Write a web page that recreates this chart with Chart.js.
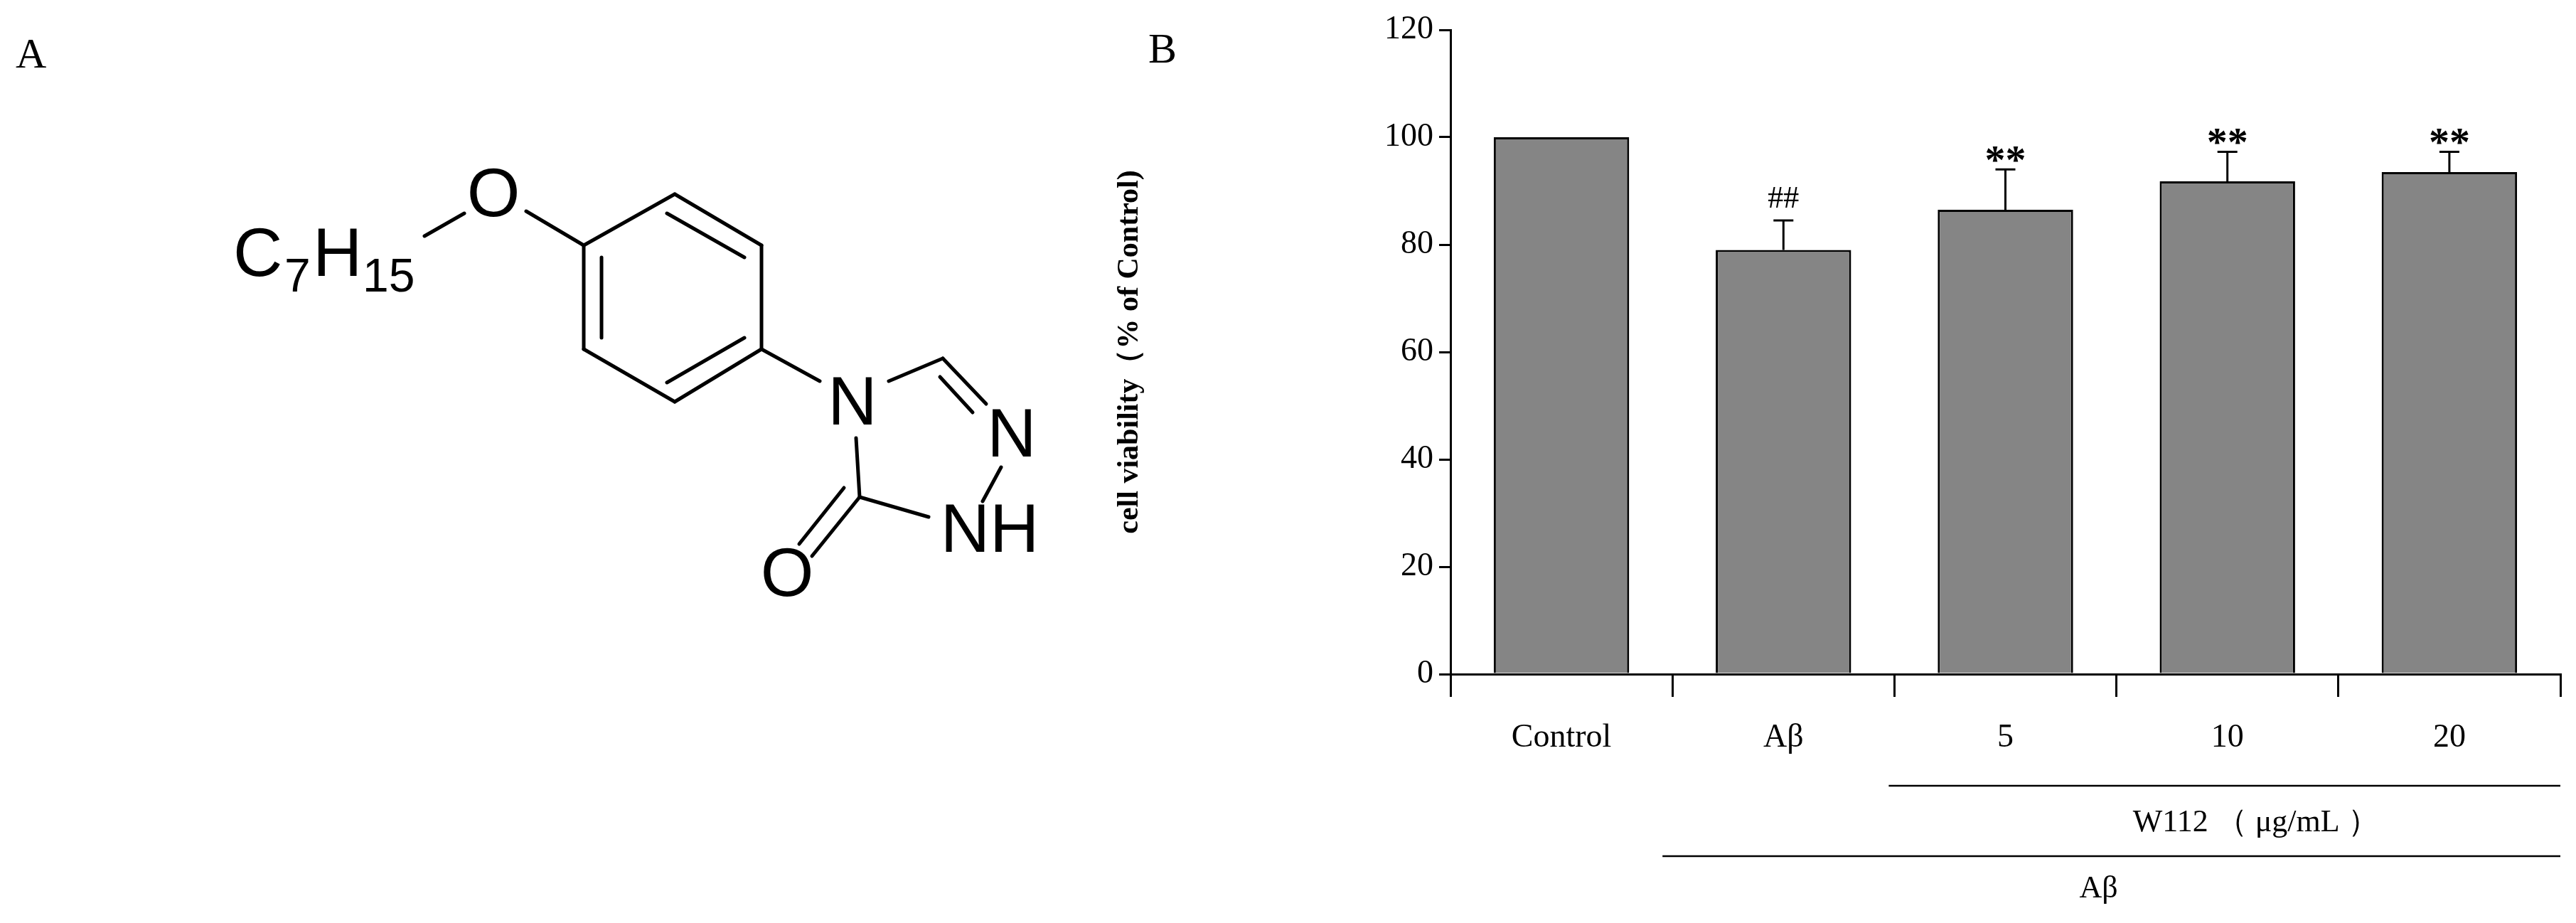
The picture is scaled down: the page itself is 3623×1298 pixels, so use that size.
<!DOCTYPE html>
<html>
<head>
<meta charset="utf-8">
<script src="https://cdn.jsdelivr.net/npm/chart.js@4/dist/chart.umd.min.js"></script>
<style>
  body { margin:0; background:#fff; width:3623px; height:1298px; position:relative; overflow:hidden; }
  #mol { position:absolute; left:0; top:0; }
  #chart { position:absolute; left:1560px; top:0; }
</style>
</head>
<body>
<canvas id="mol" width="1560" height="1298"></canvas>
<canvas id="chart" width="2063" height="1298" style="width:2063px;height:1298px"></canvas>
<script>
var categories = ['Control', 'Aβ', '5', '10', '20'];
var viability = [100, 79, 86.5, 91.8, 93.5];
var errors = [0, 5.5, 7.5, 5.5, 3.8];
var marks = ['', '##', '**', '**', '**'];
var yTicks = [0, 20, 40, 60, 80, 100, 120];

// panel A: structure drawn by hand
var m = document.getElementById('mol').getContext('2d');
m.fillStyle = '#000'; m.strokeStyle = '#000'; m.lineWidth = 5; m.lineCap = 'round';
m.font = '60px "Liberation Serif"';
m.fillText('A', 22, 95);
function ln(a, b, c, d) { m.beginPath(); m.moveTo(a, b); m.lineTo(c, d); m.stroke(); }
ln(597, 332, 653, 300);
ln(740, 297, 821, 345);
var ring = [[821,345],[949,273],[1071,345],[1071,491],[949,565],[821,491]];
for (var i = 0; i < 6; i++) { var p = ring[i], q = ring[(i+1)%6]; ln(p[0], p[1], q[0], q[1]); }
ln(938, 300, 1047, 362);   // inner lines
ln(1047, 475, 938, 538);
ln(846, 362, 846, 475);
ln(1071, 491, 1153, 536);
ln(1250, 536, 1326, 504);
ln(1326, 504, 1387, 568);
ln(1322, 530, 1368, 580);
ln(1408, 657, 1382, 705);
ln(1306, 727, 1209, 699);
ln(1204, 616, 1209, 699);
ln(1209, 699, 1142, 782);
ln(1187, 686, 1124, 765);
m.font = '96px "Liberation Sans"';
m.textAlign = 'center'; m.textBaseline = 'middle';
m.fillText('O', 694, 278);
m.fillText('N', 1199, 571);
m.fillText('N', 1423, 616);
m.fillText('NH', 1392, 750);
m.fillText('O', 1107, 812);
m.textAlign = 'left'; m.textBaseline = 'alphabetic';
m.fillText('C', 328, 388);
m.font = '66px "Liberation Sans"'; m.fillText('7', 400, 410);
m.font = '96px "Liberation Sans"'; m.fillText('H', 440, 388);
m.font = '66px "Liberation Sans"'; m.fillText('15', 510, 410);

// panel B
var serif = '"Liberation Serif", "Times New Roman", serif';
var extras = {
  id: 'extras',
  afterDatasetsDraw: function(chart) {
    var c = chart.ctx, x = chart.scales.x, y = chart.scales.y;
    var step = x.width / categories.length;
    c.save();
    c.strokeStyle = '#000'; c.fillStyle = '#000'; c.lineWidth = 3;
    viability.forEach(function(v, i) {
      var cx = x.getPixelForValue(i);
      if (errors[i] > 0) {
        var top = y.getPixelForValue(v + errors[i]);
        c.beginPath(); c.moveTo(cx, y.getPixelForValue(v)); c.lineTo(cx, top);
        c.moveTo(cx - 14, top); c.lineTo(cx + 14, top); c.stroke();
      }
      if (marks[i]) {
        c.font = (marks[i] === '##' ? '44px ' : 'bold 58px ') + serif;
        c.textAlign = 'center'; c.textBaseline = 'alphabetic';
        c.fillText(marks[i], cx, y.getPixelForValue(v + errors[i]) - (marks[i] === '##' ? 18 : -6));
      }
    });
    // group lines under the axis
    c.lineWidth = 2.5;
    c.beginPath(); c.moveTo(x.getPixelForValue(2) - step / 2 - 8, 1105); c.lineTo(x.right, 1105); c.stroke();
    c.beginPath(); c.moveTo(x.getPixelForValue(1) - step / 2 - 14, 1204); c.lineTo(x.right, 1204); c.stroke();
    c.font = '44px ' + serif; c.textAlign = 'center'; c.textBaseline = 'middle';
    c.fillText('W112 （ μg/mL ）', x.getPixelForValue(3) + 40, 1157);
    c.fillText('Aβ', x.getPixelForValue(2.5) - 25, 1250);
    c.textAlign = 'left';
    c.font = '60px ' + serif;
    c.fillText('B', 55, 72);
    c.restore();
  }
};

new Chart(document.getElementById('chart'), {
  type: 'bar',
  data: {
    labels: categories,
    datasets: [{
      data: viability,
      backgroundColor: '#858585',
      borderColor: '#000',
      borderWidth: 3,
      barPercentage: 0.61,
      categoryPercentage: 1
    }]
  },
  options: {
    responsive: false,
    animation: false,
    devicePixelRatio: 1,
    layout: { padding: { top: 42, right: 22, left: 0, bottom: 0 } },
    plugins: { legend: { display: false }, tooltip: { enabled: false } },
    scales: {
      x: {
        afterFit: function(s) { s.height = 350; },
        grid: { display: true, drawOnChartArea: false, offset: true, tickLength: 32, color: '#000', lineWidth: 3 },
        border: { color: '#000', width: 3 },
        ticks: { color: '#000', padding: 30, font: { family: serif, size: 46 } }
      },
      y: {
        min: 0, max: 120,
        afterFit: function(s) { s.width = 480; },
        afterBuildTicks: function(s) { s.ticks = yTicks.map(function(v) { return { value: v }; }); },
        grid: { display: true, drawOnChartArea: false, tickLength: 16, color: '#000', lineWidth: 3 },
        border: { color: '#000', width: 3 },
        ticks: { color: '#000', padding: 8, font: { family: serif, size: 46 } },
        title: { display: true, text: 'cell viability（% of Control)', color: '#000', padding: { bottom: 60 },
                 font: { family: serif, size: 42, weight: 'bold' } }
      }
    }
  },
  plugins: [extras]
});
</script>
</body>
</html>
